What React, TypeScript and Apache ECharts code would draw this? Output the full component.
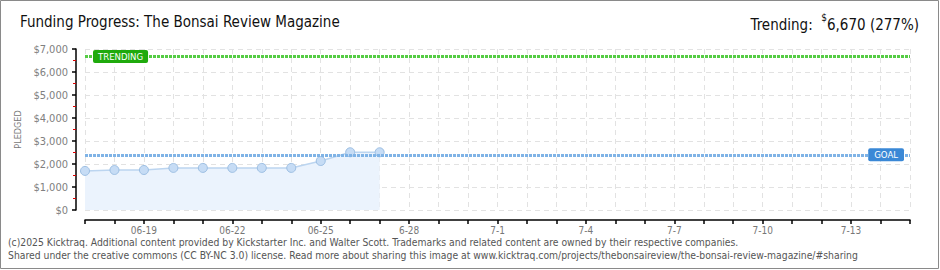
import React, { useEffect, useRef } from "react";
import * as echarts from "echarts";

const categories = [
  "06-17", "06-18", "06-19", "06-20", "06-21", "06-22", "06-23", "06-24", "06-25", "06-26",
  "06-27", "6-28", "6-29", "6-30", "7-1", "7-2", "7-3", "7-4", "7-5", "7-6",
  "7-7", "7-8", "7-9", "7-10", "7-11", "7-12", "7-13", "7-14", "7-15",
];
const pledged = [1700, 1740, 1740, 1830, 1830, 1830, 1830, 1830, 2130, 2510, 2510];
const goal = 2400;
const trending = 6670;
const yTicks = [0, 1000, 2000, 3000, 4000, 5000, 6000, 7000];

const titleText = "Funding Progress: The Bonsai Review Magazine";
const footer1 =
  "(c)2025 Kicktraq. Additional content provided by Kickstarter Inc. and Walter Scott. Trademarks and related content are owned by their respective companies.";
const footer2 =
  "Shared under the creative commons (CC BY-NC 3.0) license. Read more about sharing this image at www.kicktraq.com/projects/thebonsaireview/the-bonsai-review-magazine/#sharing";

const FONT = "'DejaVu Sans Condensed', 'Liberation Sans Narrow', 'DejaVu Sans', sans-serif";

export default function App() {
  const ref = useRef<HTMLDivElement>(null);
  useEffect(() => {
    document.body.style.margin = "0";
    const chart = echarts.init(ref.current!, null, { renderer: "svg" });
    const fmt = (v: number) => "$" + v.toLocaleString("en-US");
    chart.setOption({
      animation: false,
      backgroundColor: "#ffffff",
      textStyle: { fontFamily: FONT },
      grid: { left: 85, right: 30, top: 49, bottom: 60, containLabel: false },
      graphic: [
        {
          type: "rect",
          shape: { x: 0.5, y: 0.5, width: 938, height: 268 },
          style: { fill: "none", stroke: "#8a8a8a", lineWidth: 1 },
          silent: true,
        },
        {
          type: "text",
          left: 20,
          top: 14,
          style: { text: titleText, fontSize: 15, fill: "#111", fontFamily: FONT },
        },
        {
          type: "text",
          right: 21,
          top: 12,
          style: {
            text: "{a|Trending:  }{s|$}{a|6,670 (277%)}",
            fontFamily: FONT,
            rich: {
              a: { fontSize: 15, fill: "#111", fontFamily: FONT, verticalAlign: "bottom", lineHeight: 20 },
              s: { fontSize: 10, fill: "#111", fontFamily: FONT, verticalAlign: "top", lineHeight: 20 },
            },
          },
        },
        {
          type: "text",
          left: 8,
          top: 237,
          style: { text: footer1, fontSize: 10.3, fill: "#555", fontFamily: FONT },
        },
        {
          type: "text",
          left: 8,
          top: 250,
          style: { text: footer2, fontSize: 10.3, fill: "#555", fontFamily: FONT },
        },
      ],
      xAxis: {
        type: "category",
        data: categories,
        boundaryGap: false,
        offset: 10,
        axisLine: { show: true, onZero: false, lineStyle: { color: "#000", width: 1.5 } },
        axisTick: { show: true, interval: 0, length: 4, inside: false, lineStyle: { color: "#000", width: 1.5 } },
        axisLabel: {
          interval: (i: number) => i % 3 === 2,
          color: "#777",
          fontSize: 10,
          margin: 5,
          fontFamily: FONT,
        },
        splitLine: { show: true, interval: 0, lineStyle: { color: "#e2e2e2", type: [5, 4] } },
      },
      yAxis: {
        type: "value",
        min: 0,
        max: 7000,
        interval: 1000,
        offset: 9,
        name: "PLEDGED",
        nameLocation: "middle",
        nameGap: 45,
        nameRotate: 90,
        nameTextStyle: { color: "#777", fontSize: 9, fontFamily: FONT },
        axisLine: { show: true, lineStyle: { color: "#000", width: 1.5 } },
        axisTick: { show: true, length: 4, lineStyle: { color: "#000", width: 1.5 } },
        minorTick: { show: true, splitNumber: 2, length: 3, lineStyle: { color: "#dd0000", width: 1 } },
        axisLabel: {
          color: "#808080",
          fontSize: 11,
          margin: 8,
          fontFamily: FONT,
          formatter: (v: number) => (yTicks.includes(v) ? fmt(v) : ""),
        },
        splitLine: { show: true, lineStyle: { color: "#e2e2e2", type: [5, 4] } },
      },
      series: [
        {
          type: "line",
          data: pledged,
          symbol: "circle",
          symbolSize: 9,
          itemStyle: { color: "#c6dcf5", borderColor: "#9dbfe3", borderWidth: 1 },
          lineStyle: { color: "#bcd5f0", width: 1.5 },
          areaStyle: { color: "#ebf3fd", opacity: 1 },
          z: 3,
          markLine: {
            silent: true,
            symbol: "none",
            animation: false,
            data: [
              {
                yAxis: trending,
                lineStyle: { color: "#55cc44", type: [3, 1], width: 3 },
                label: {
                  show: true,
                  position: "insideStartTop",
                  verticalAlign: "middle",
                  distance: [8, 0],
                  formatter: "TRENDING",
                  color: "#fff",
                  backgroundColor: "#1faa0c",
                  fontSize: 9.5,
                  fontFamily: FONT,
                  padding: [2, 5, 1, 5],
                  borderRadius: 2,
                },
              },
              {
                yAxis: goal,
                lineStyle: { color: "#7fb3e6", type: [3, 1], width: 3 },
                label: {
                  show: true,
                  position: "insideEndTop",
                  verticalAlign: "middle",
                  distance: [6, 0],
                  formatter: "GOAL",
                  color: "#fff",
                  backgroundColor: "#3a88d6",
                  fontSize: 9.5,
                  fontFamily: FONT,
                  padding: [2, 6, 1, 6],
                  borderRadius: 2,
                },
              },
            ],
          },
        },
      ],
    });
    return () => chart.dispose();
  }, []);
  return <div ref={ref} style={{ position: "absolute", left: 0, top: 0, width: 940, height: 270 }} />;
}
